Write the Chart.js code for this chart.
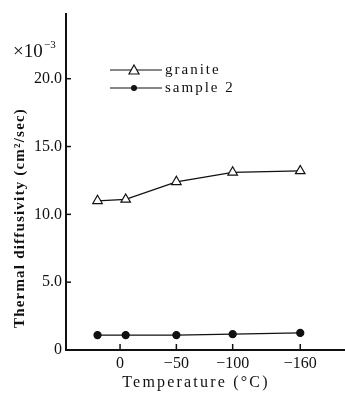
<!DOCTYPE html>
<html>
<head>
<meta charset="utf-8">
<script src="https://cdn.jsdelivr.net/npm/chart.js@4/dist/chart.umd.min.js"></script>
<style>
  html, body { margin: 0; padding: 0; background: #fff; overflow: hidden; }
  #wrap { width: 345px; height: 394px; overflow: hidden; }
</style>
</head>
<body>
<div id="wrap"><canvas id="chart" width="352" height="394"></canvas></div>
<script>
const temps = [20, -5, -50, -100, -160];
const granite = [11.0, 11.1, 12.4, 13.1, 13.2];
const sample2 = [1.1, 1.1, 1.1, 1.17, 1.26];
const xTicks = [0, -50, -100, -160];
const yTicks = [0, 5, 10, 15, 20];
const seriesNames = ["granite", "sample 2"];

const serif = "'Liberation Serif', 'DejaVu Serif', serif";

function toPoints(ys) {
    return temps.map((t, i) => ({ x: t, y: ys[i] }));
}

// draws inward ticks, legend and axis titles
const extras = {
    id: "extras",
    afterDraw(chart) {
        const ctx = chart.ctx;
        const xs = chart.scales.x;
        const ys = chart.scales.y;
        const area = chart.chartArea;
        ctx.save();
        ctx.strokeStyle = "#111";
        ctx.lineWidth = 1.5;
        xTicks.forEach((v) => {
            const px = xs.getPixelForValue(v);
            ctx.beginPath();
            ctx.moveTo(px, area.bottom);
            ctx.lineTo(px, area.bottom - 6);
            ctx.stroke();
        });
        yTicks.forEach((v) => {
            const py = ys.getPixelForValue(v);
            ctx.beginPath();
            ctx.moveTo(area.left, py);
            ctx.lineTo(area.left + 5, py);
            ctx.stroke();
        });

        // legend
        ctx.fillStyle = "#111";
        ctx.font = "15px " + serif;
        ctx.letterSpacing = "2px";
        ctx.textBaseline = "middle";
        const rows = [70, 88];
        rows.forEach((y, i) => {
            ctx.lineWidth = 1.2;
            ctx.beginPath();
            ctx.moveTo(110, y);
            ctx.lineTo(162, y);
            ctx.stroke();
            const ds = chart.data.datasets[i];
            if (i === 0) {
                ctx.fillStyle = "#fff";
                ctx.beginPath();
                ctx.moveTo(134, y - 5);
                ctx.lineTo(139, y + 4);
                ctx.lineTo(129, y + 4);
                ctx.closePath();
                ctx.fill();
                ctx.stroke();
            } else {
                ctx.fillStyle = "#111";
                ctx.beginPath();
                ctx.arc(134, y, 3, 0, Math.PI * 2);
                ctx.fill();
            }
            ctx.fillStyle = "#111";
            ctx.textAlign = "left";
            ctx.fillText(ds.label, 165, y);
        });

        // x title
        ctx.font = "16px " + serif;
        ctx.letterSpacing = "2.2px";
        ctx.textAlign = "center";
        ctx.fillText("Temperature (°C)", 196, 383);

        // y title
        ctx.save();
        ctx.translate(20, 218);
        ctx.rotate(-Math.PI / 2);
        ctx.font = "bold 15px " + serif;
        ctx.letterSpacing = "1.2px";
        ctx.fillText("Thermal diffusivity (cm²/sec)", 0, 0);
        ctx.restore();

        // multiplier
        ctx.letterSpacing = "0px";
        ctx.textAlign = "left";
        ctx.font = "19px " + serif;
        ctx.fillText("×10", 13, 52);
        ctx.font = "11px " + serif;
        ctx.fillText("−3", 44, 45);
        ctx.restore();
    },
};

new Chart(document.getElementById("chart"), {
    type: "line",
    data: {
        datasets: [
            {
                label: seriesNames[0],
                data: toPoints(granite),
                borderColor: "#111",
                borderWidth: 1.3,
                pointStyle: "triangle",
                pointRadius: 5.5,
                pointBackgroundColor: "#fff",
                pointBorderColor: "#111",
                pointBorderWidth: 1.2,
                tension: 0,
            },
            {
                label: seriesNames[1],
                data: toPoints(sample2),
                borderColor: "#111",
                borderWidth: 1.3,
                pointStyle: "circle",
                pointRadius: 3.5,
                pointBackgroundColor: "#111",
                pointBorderColor: "#111",
                tension: 0,
            },
        ],
    },
    options: {
        responsive: false,
        animation: false,
        layout: { padding: { top: 8, right: 0, left: 0, bottom: 0 } },
        plugins: {
            legend: { display: false },
            tooltip: { enabled: false },
        },
        scales: {
            x: {
                type: "linear",
                reverse: true,
                min: -200,
                max: 48,
                afterBuildTicks: (s) => { s.ticks = xTicks.map((v) => ({ value: v })); },
                afterFit: (s) => { s.height = 44; s.paddingRight = 0; s.paddingLeft = 0; },
                border: { display: true, color: "#111", width: 2 },
                grid: { display: false, drawTicks: false },
                ticks: {
                    color: "#111",
                    padding: 4,
                    maxRotation: 0,
                    font: { family: serif, size: 16 },
                    callback: (v) => (v < 0 ? "−" + Math.abs(v) : String(v)),
                },
            },
            y: {
                min: 0,
                max: 24.8,
                afterBuildTicks: (s) => { s.ticks = yTicks.map((v) => ({ value: v })); },
                afterFit: (s) => { s.width = 66; },
                border: { display: true, color: "#111", width: 2 },
                grid: { display: false, drawTicks: false },
                ticks: {
                    color: "#111",
                    padding: 4,
                    font: { family: serif, size: 16 },
                    callback: (v) => (v === 0 ? "0" : v.toFixed(1)),
                },
            },
        },
    },
    plugins: [extras],
});
</script>
</body>
</html>
